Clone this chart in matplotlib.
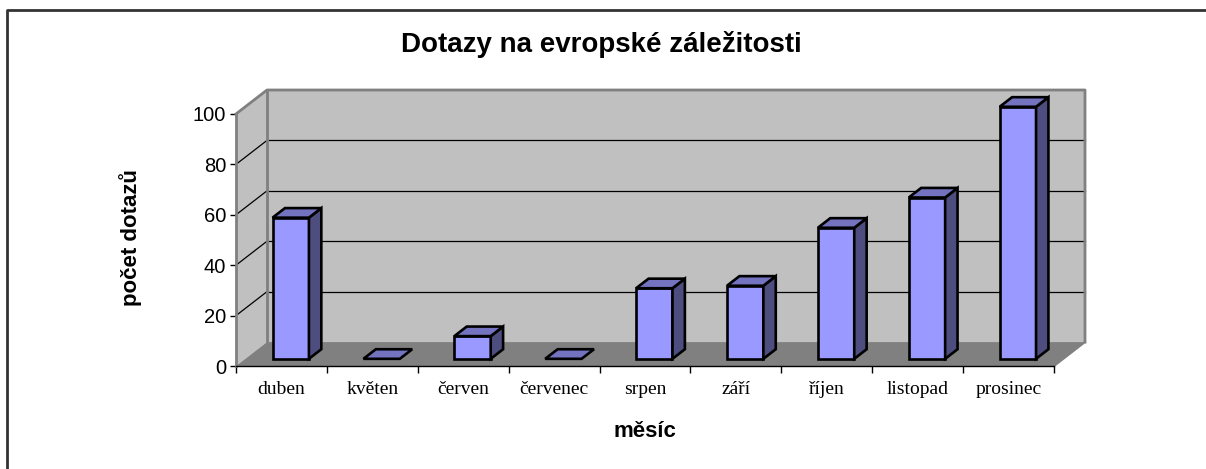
import matplotlib
matplotlib.use("Agg")
import matplotlib.pyplot as plt
from matplotlib.patches import Polygon
from matplotlib.lines import Line2D

plt.rcParams['font.family'] = ['Liberation Sans', 'DejaVu Sans']

months = ['duben', 'květen', 'červen', 'červenec', 'srpen', 'září', 'říjen', 'listopad', 'prosinec']
counts = [56, 0, 9, 0, 28, 29, 52, 64, 100]
yticks = [0, 20, 40, 60, 80, 100]

TITLE = 'Dotazy na evropské záležitosti'
XLABEL = 'měsíc'
YLABEL = 'počet dotazů'

# fake 3d: depth offset of the back wall in data units
DX = 0.341
DY = 9.5
YMAX = 100

WALL = '#c0c0c0'
FLOOR = '#808080'
EDGE = '#808080'
FRONT = '#9999ff'
TOP = '#7373bf'
SIDE = '#4d4d80'

n = len(months)

fig = plt.figure(figsize=(12.06, 4.69), dpi=100)
ax = fig.add_axes([236 / 1206, 103 / 469, 849 / 1206, 276 / 469])
ax.set_xlim(0, n + DX)
ax.set_ylim(0, YMAX + DY)
ax.set_facecolor('none')


def poly(pts, fc, ec='none', lw=0, z=1):
	p = Polygon(pts, closed=True, facecolor=fc, edgecolor=ec, linewidth=lw,
		zorder=z, clip_on=False, joinstyle='miter')
	ax.add_patch(p)


def line(xs, ys, c, lw, z=2):
	ax.add_line(Line2D(xs, ys, color=c, linewidth=lw, zorder=z, clip_on=False))


# walls and floor
poly([(DX, DY), (n + DX, DY), (n + DX, YMAX + DY), (DX, YMAX + DY)], WALL)
poly([(0, 0), (0, YMAX), (DX, YMAX + DY), (DX, DY)], WALL)
poly([(0, 0), (n, 0), (n + DX, DY), (DX, DY)], FLOOR)

# gridlines on the back and side wall
for v in yticks[1:-1]:
	line([DX, n + DX], [v + DY, v + DY], 'black', 0.9)
	line([0, DX], [v, v + DY], 'black', 0.9)

# wall edges
line([0, DX, n + DX, n + DX], [YMAX, YMAX + DY, YMAX + DY, DY], EDGE, 2)
line([DX, DX], [DY, YMAX + DY], EDGE, 2)
line([n, n + DX], [0, DY], EDGE, 1.5)

# bars
bw = 0.4
d0 = 0.3
d1 = 0.7
for i, v in enumerate(counts):
	x0 = i + 0.3 + d0 * DX
	x1 = x0 + bw
	y0 = d0 * DY
	ox = (d1 - d0) * DX
	oy = (d1 - d0) * DY
	z = 5 + i
	if v > 0:
		poly([(x0, y0), (x1, y0), (x1, y0 + v), (x0, y0 + v)], FRONT, 'black', 1.9, z)
		poly([(x1, y0), (x1 + ox, y0 + oy), (x1 + ox, y0 + oy + v), (x1, y0 + v)], SIDE, 'black', 1.9, z)
	poly([(x0, y0 + v), (x1, y0 + v), (x1 + ox, y0 + oy + v), (x0 + ox, y0 + oy + v)], TOP, 'black', 1.9, z)

# axes
for s in ['top', 'right']:
	ax.spines[s].set_visible(False)
ax.spines['left'].set_bounds(0, YMAX)
ax.spines['left'].set_color(EDGE)
ax.spines['left'].set_linewidth(2)
ax.spines['left'].set_zorder(3)
ax.spines['bottom'].set_bounds(0, n)
ax.spines['bottom'].set_linewidth(1)
ax.spines['bottom'].set_zorder(3)

ax.set_yticks(yticks)
ax.set_yticklabels([str(t) for t in yticks], fontsize=14.5)
ax.tick_params(axis='y', direction='out', length=4, width=1, pad=3)

ax.set_xticks(range(n + 1))
ax.set_xticklabels([])
ax.tick_params(axis='x', which='major', direction='out', length=5, width=1)
ax.set_xticks([i + 0.5 for i in range(n)], minor=True)
ax.set_xticklabels(months, minor=True, fontsize=14, family=['Liberation Serif', 'DejaVu Serif'])
ax.tick_params(axis='x', which='minor', length=0, pad=11)

ax.set_xlabel(XLABEL, fontsize=16, fontweight='bold', va='center')
ax.xaxis.set_label_coords((645 - 236) / 849, (366 - 431) / 276)
ax.set_ylabel(YLABEL, fontsize=16, fontweight='bold', va='center')
ax.yaxis.set_label_coords((131 - 236) / 849, (366 - 238) / 276)

fig.text(601 / 1206, 1 - 45 / 469, TITLE, fontsize=20, fontweight='bold', ha='center', va='center')

# chart frame (only top and left edge visible)
fig.add_artist(Line2D([6.5 / 1206, 6.5 / 1206, 1.0], [0.0, 1 - 10 / 469, 1 - 10 / 469],
	transform=fig.transFigure, color='#333333', linewidth=2))

fig.savefig('out.png', dpi=100)
